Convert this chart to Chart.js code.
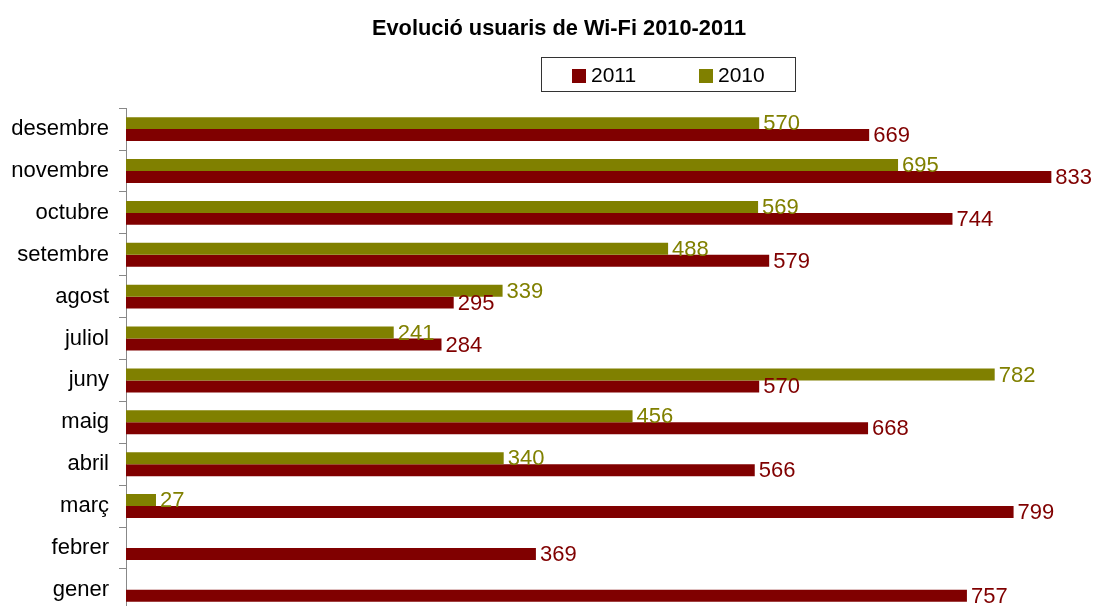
<!DOCTYPE html>
<html>
<head>
<meta charset="utf-8">
<style>
  html, body { margin: 0; padding: 0; overflow: hidden; background: #fff; }
  canvas { display: block; }
</style>
<script src="https://cdn.jsdelivr.net/npm/chart.js@4"></script>
</head>
<body>
<canvas id="myChart" width="1130" height="634"></canvas>
<script>
'use strict';

// months top to bottom as in the picture
let months = ['desembre', 'novembre', 'octubre', 'setembre', 'agost', 'juliol', 'juny', 'maig', 'abril', 'març', 'febrer', 'gener'];
let users2010 = [570, 695, 569, 488, 339, 241, 782, 456, 340, 27, null, null];
let users2011 = [669, 833, 744, 579, 295, 284, 570, 668, 566, 799, 369, 757];

let fontFamily = "'Liberation Sans', Arial, sans-serif";
let olive = '#808000';
let darkRed = '#800000';

// value labels at the end of each bar
let barLabels = {
  id: 'barLabels',
  afterDatasetsDraw(chart) {
    let ctx = chart.ctx;
    ctx.save();
    ctx.font = '22px ' + fontFamily;
    ctx.textAlign = 'left';
    ctx.textBaseline = 'middle';
    chart.data.datasets.forEach(function (ds, i) {
      let meta = chart.getDatasetMeta(i);
      meta.data.forEach(function (bar, j) {
        let v = ds.data[j];
        if (v === null || v === undefined) return;
        ctx.fillStyle = ds.backgroundColor;
        ctx.fillText(String(v), bar.x + 4, bar.y + 1);
      });
    });
    ctx.restore();
  }
};

// boxed legend, 2011 first
let boxLegend = {
  id: 'boxLegend',
  afterDraw(chart) {
    let ctx = chart.ctx;
    ctx.save();
    ctx.strokeStyle = '#333';
    ctx.lineWidth = 1;
    ctx.strokeRect(541.5, 57.5, 254, 34);
    ctx.font = '21px ' + fontFamily;
    ctx.textBaseline = 'middle';
    let items = chart.data.datasets.slice().reverse();
    let x = 572;
    items.forEach(function (ds) {
      ctx.fillStyle = ds.backgroundColor;
      ctx.fillRect(x, 69, 14, 14);
      ctx.fillStyle = '#000';
      ctx.fillText(ds.label, x + 19, 76);
      x += 127;
    });
    ctx.restore();
  }
};

let ctx = document.getElementById('myChart').getContext('2d');
let myChart = new Chart(ctx, {
  type: 'bar',
  data: {
    labels: months,
    datasets: [{
      label: '2010',
      data: users2010,
      backgroundColor: olive,
      borderWidth: 0
    }, {
      label: '2011',
      data: users2011,
      backgroundColor: darkRed,
      borderWidth: 0
    }]
  },
  options: {
    indexAxis: 'y',
    responsive: false,
    animation: false,
    devicePixelRatio: 1,
    categoryPercentage: 24 / 42,
    barPercentage: 1,
    layout: {
      padding: { left: 0, right: 12, top: 0, bottom: 8 }
    },
    plugins: {
      legend: { display: false },
      tooltip: { enabled: false },
      title: {
        display: true,
        text: 'Evolució usuaris de Wi-Fi 2010-2011',
        color: '#000',
        font: { family: fontFamily, size: 21.8, weight: 'bold' },
        padding: { top: 16, bottom: 66 }
      }
    },
    scales: {
      x: {
        display: false,
        min: 0,
        max: 893
      },
      y: {
        afterFit(scale) {
          scale.width = 126;
        },
        border: { display: true, color: '#888', width: 1 },
        grid: {
          drawOnChartArea: false,
          drawTicks: true,
          tickLength: 7,
          color: '#888'
        },
        ticks: {
          color: '#000',
          padding: 10,
          font: { family: fontFamily, size: 22 }
        }
      }
    }
  },
  plugins: [barLabels, boxLegend]
});
</script>
</body>
</html>
